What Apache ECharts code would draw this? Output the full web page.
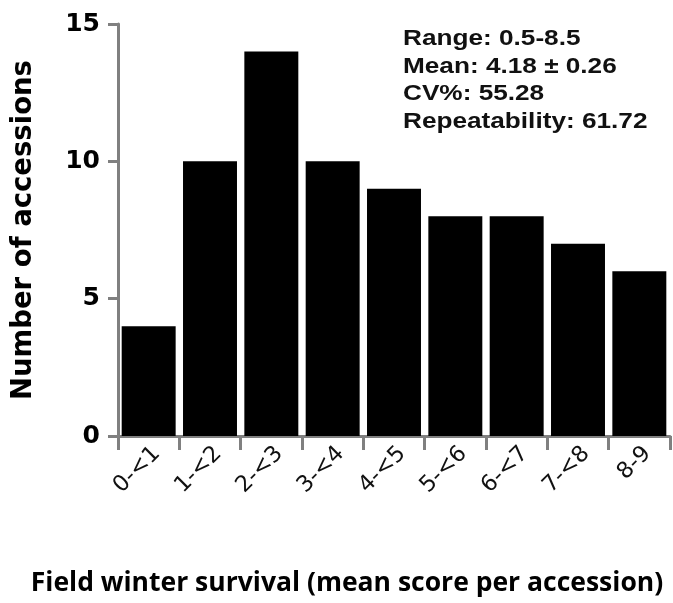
<!DOCTYPE html>
<html><head><meta charset="utf-8">
<script src="https://cdn.jsdelivr.net/npm/echarts@6/dist/echarts.min.js"></script>
<style>html,body{margin:0;padding:0;background:#fff}#c{width:673px;height:603px}</style>
</head><body><div id="c"></div>
<script>
const categories = ['0-<1','1-<2','2-<3','3-<4','4-<5','5-<6','6-<7','7-<8','8-9'];
const counts = [4,10,14,10,9,8,8,7,6];
const yTicks = [0,5,10,15];
const statsLines = ['Range: 0.5-8.5','Mean: 4.18 ± 0.26','CV%: 55.28','Repeatability: 61.72'];
const xTitle = 'Field winter survival (mean score per accession)';
const yTitle = 'Number of accessions';

const chart = echarts.init(document.getElementById('c'));
const axisGray = '#808080';
chart.setOption({
  animation:false,
  grid:{left:118,right:3,top:24,bottom:167,containLabel:false,outerBoundsMode:'none'},
  xAxis:{type:'category',data:categories,
    axisLine:{lineStyle:{color:axisGray,width:3}},
    axisTick:{show:true,length:14,lineStyle:{color:axisGray,width:3}},
    axisLabel:{rotate:45,fontFamily:'DejaVu Sans',fontSize:22.5,color:'#111',margin:6,interval:0,verticalAlign:'top'}
  },
  yAxis:{type:'value',min:yTicks[0],max:yTicks[yTicks.length-1],interval:5,
    splitLine:{show:false},
    axisLine:{show:true,lineStyle:{color:axisGray,width:3}},
    axisTick:{show:true,length:10,lineStyle:{color:axisGray,width:3}},
    axisLabel:{fontFamily:'DejaVu Sans',fontWeight:'bold',fontSize:25,color:'#000',margin:18},
    name:yTitle,nameLocation:'middle',nameGap:80,
    nameTextStyle:{fontFamily:'DejaVu Sans',fontWeight:'bold',fontSize:27.5,color:'#000'}
  },
  series:[{type:'bar',data:counts,barCategoryGap:'12%',itemStyle:{color:'#000'}}],
  graphic:[
    ...statsLines.map((t,i)=>({type:'text',x:403,y:39+i*27.7,scaleX:1.19,
      style:{text:t,fontFamily:'Liberation Sans',fontWeight:'bold',fontSize:22,fill:'#111',verticalAlign:'middle'}})),
    {type:'text',x:347,y:583,
      style:{text:xTitle,fontFamily:'Open Sans',fontWeight:'bold',fontSize:26.5,fill:'#000',align:'center',verticalAlign:'middle'}}
  ]
});
</script></body></html>
